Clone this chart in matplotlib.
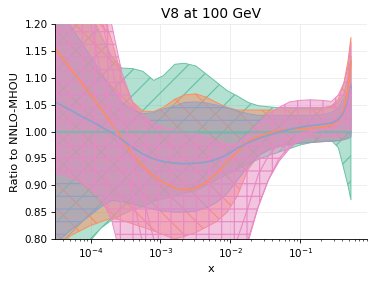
import matplotlib
matplotlib.use("Agg")
import matplotlib.pyplot as plt

x = [3.1e-5, 5e-5, 7e-5, 1e-4, 1.4e-4, 2e-4, 2.8e-4, 4e-4, 5.6e-4, 8e-4, 1.1e-3,
     1.6e-3, 2.2e-3, 3.2e-3, 4.5e-3, 6.3e-3, 9e-3, 1.26e-2, 1.8e-2, 2.5e-2, 3.5e-2,
     5e-2, 7e-2, 0.1, 0.14, 0.2, 0.28, 0.35, 0.42, 0.48, 0.53]

green_cv = [1.0, 1.0, 1.0, 1.0, 1.0, 1.0, 1.0, 1.0, 1.0, 1.0, 1.0, 1.0, 1.0, 1.0, 1.0, 1.0,
            1.0, 1.0, 1.0, 1.0, 1.0, 1.0, 1.0, 1.0, 1.0, 1.0, 1.0, 1.0, 1.0, 1.0, 1.0]
green_up = [1.35, 1.30, 1.26, 1.22, 1.18, 1.14, 1.118, 1.117, 1.112, 1.095, 1.104, 1.125, 1.127,
            1.122, 1.107, 1.092, 1.076, 1.066, 1.054, 1.048, 1.046, 1.044, 1.043, 1.043, 1.043,
            1.044, 1.047, 1.055, 1.07, 1.10, 1.14]
green_dn = [0.70, 0.75, 0.78, 0.797, 0.82, 0.835, 0.845, 0.855, 0.86, 0.87, 0.875, 0.88, 0.885,
            0.89, 0.90, 0.91, 0.92, 0.93, 0.94, 0.948, 0.955, 0.962, 0.968, 0.975, 0.979, 0.982,
            0.983, 0.97, 0.93, 0.90, 0.873]

orange_cv = [1.155, 1.120, 1.094, 1.068, 1.043, 1.015, 0.988, 0.957, 0.936, 0.917, 0.905, 0.895,
             0.891, 0.895, 0.905, 0.922, 0.943, 0.962, 0.982, 0.991, 0.997, 1.002, 1.004, 1.005,
             1.006, 1.008, 1.011, 1.02, 1.04, 1.08, 1.13]
orange_up = [1.45, 1.38, 1.33, 1.28, 1.23, 1.17, 1.10, 1.055, 1.038, 1.037, 1.045, 1.06, 1.068,
             1.07, 1.064, 1.054, 1.045, 1.04, 1.04, 1.04, 1.04, 1.04, 1.04, 1.04, 1.04, 1.042,
             1.048, 1.06, 1.09, 1.13, 1.175]
orange_dn = [0.76, 0.805, 0.815, 0.825, 0.832, 0.839, 0.835, 0.828, 0.822, 0.815, 0.808, 0.80,
             0.805, 0.812, 0.822, 0.832, 0.85, 0.88, 0.93, 0.955, 0.968, 0.975, 0.978, 0.979,
             0.98, 0.981, 0.982, 0.983, 0.985, 0.99, 0.995]

blue_cv = [1.055, 1.041, 1.030, 1.020, 1.009, 0.998, 0.985, 0.970, 0.958, 0.949, 0.944, 0.941,
           0.940, 0.941, 0.943, 0.948, 0.957, 0.969, 0.979, 0.987, 0.993, 0.999, 1.004, 1.008,
           1.011, 1.013, 1.016, 1.022, 1.035, 1.055, 1.083]
blue_up = [1.25, 1.20, 1.17, 1.14, 1.11, 1.08, 1.055, 1.04, 1.033, 1.035, 1.042, 1.047, 1.054,
           1.055, 1.053, 1.049, 1.044, 1.038, 1.033, 1.03, 1.03, 1.03, 1.03, 1.03, 1.03, 1.031,
           1.035, 1.045, 1.06, 1.075, 1.09]
blue_dn = [0.79, 0.815, 0.83, 0.845, 0.86, 0.872, 0.87, 0.865, 0.86, 0.855, 0.852, 0.85, 0.85,
           0.852, 0.858, 0.868, 0.885, 0.91, 0.935, 0.955, 0.965, 0.972, 0.976, 0.978, 0.98,
           0.981, 0.982, 0.983, 0.985, 0.987, 0.99]

pink_up = [1.6, 1.5, 1.42, 1.35, 1.28, 1.2, 1.11, 1.054, 1.03, 1.015, 1.008, 1.003, 1.0, 0.996,
           0.99, 0.983, 0.976, 0.978, 0.995, 1.015, 1.033, 1.045, 1.055, 1.058, 1.059, 1.058,
           1.056, 1.068, 1.09, 1.12, 1.165]
pink_dn = [0.923, 0.915, 0.906, 0.893, 0.877, 0.835, 0.76, 0.70, 0.68, 0.66, 0.65, 0.64, 0.63,
           0.63, 0.63, 0.64, 0.66, 0.72, 0.795, 0.86, 0.91, 0.945, 0.968, 0.985, 0.99, 0.99,
           0.99, 0.99, 0.995, 1.0, 1.0]
pink_l1 = [1.5, 1.38, 1.29, 1.2, 1.11, 1.03, 0.96, 0.88, 0.79, 0.7, 0.65, 0.62, 0.6, 0.6, 0.6,
           0.64, 0.7, 0.8, 0.86, 0.92, 0.955, 0.978, 0.99, 0.997, 1.0, 1.003, 1.006, 1.012,
           1.03, 1.05, 1.08]
pink_l2 = [1.7, 1.55, 1.45, 1.33, 1.22, 1.12, 1.04, 0.96, 0.88, 0.8, 0.74, 0.7, 0.68, 0.67, 0.67,
           0.68, 0.70, 0.74, 0.80, 0.86, 0.91, 0.95, 0.972, 0.99, 0.998, 1.003, 1.006, 1.012,
           1.025, 1.045, 1.07]

colors = ["#66c2a5", "#fc8d62", "#8da0cb", "#e78ac3"]
hatches = ["/", "\\", "-", "+"]
series = [(green_cv, green_up, green_dn), (orange_cv, orange_up, orange_dn),
          (blue_cv, blue_up, blue_dn), (None, pink_up, pink_dn)]

DPI = 76
plt.rcParams['hatch.linewidth'] = 1.1
fig = plt.figure(figsize=(374 / DPI, 281 / DPI), dpi=DPI)
ax = fig.add_axes([55 / 374, 1 - 239 / 281, (367 - 55) / 374, (239 - 24) / 281])

for (cv, up, dn), c, h in zip(series, colors, hatches):
    if cv is not None:
        ax.plot(x, cv, color=c, lw=1.6, zorder=2)
    ax.fill_between(x, up, dn, color=c, alpha=0.5, zorder=1, lw=0)
    ax.fill_between(x, up, dn, facecolor="none", edgecolor=c, hatch=h, alpha=1.0,
                    zorder=1, lw=0.9)

ax.plot(x, pink_l1, color=colors[3], lw=1.1, zorder=2)
ax.plot(x, pink_l2, color=colors[3], lw=1.1, zorder=2)

ax.set_xscale("log")
ax.set_xlim(3.1e-5, 0.9)
ax.set_ylim(0.80, 1.20)
ax.set_yticks([0.80, 0.85, 0.90, 0.95, 1.00, 1.05, 1.10, 1.15, 1.20])
ax.set_yticklabels(["0.80", "0.85", "0.90", "0.95", "1.00", "1.05", "1.10", "1.15", "1.20"])
ax.tick_params(labelsize=9.8)
ax.grid(True, which="major", color="#ebebeb", lw=0.8, zorder=0)
ax.set_axisbelow(True)
for s in ["top", "right"]:
    ax.spines[s].set_visible(False)
ax.set_title("V8 at 100 GeV", fontsize=13)
ax.set_xlabel("x", fontsize=10.8)
ax.set_ylabel("Ratio to NNLO-MHOU", fontsize=10.8)

fig.savefig("out.png", dpi=DPI)
